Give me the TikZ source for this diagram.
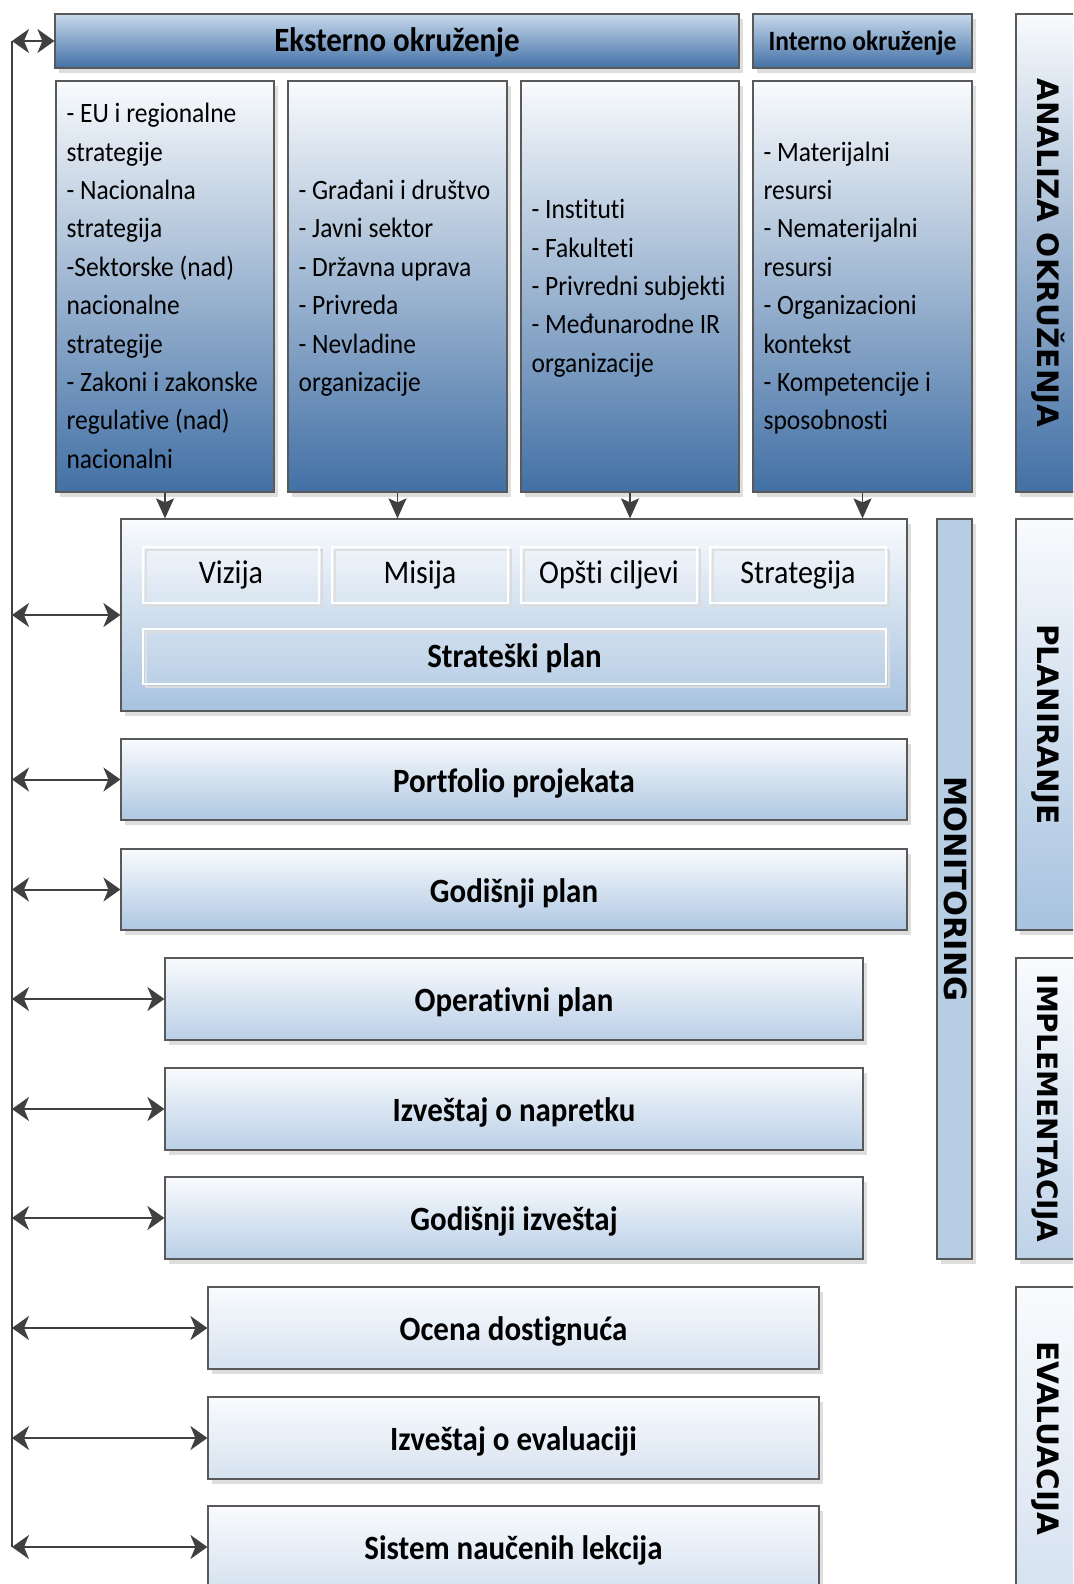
\documentclass[tikz,border=0pt]{standalone}
\usepackage{fontspec}
\setmainfont{Carlito}[FakeStretch=0.91, Ligatures=NoCommon]
\newfontfamily\capsfont{DejaVu Sans}
\usetikzlibrary{arrows.meta,shadows}

\definecolor{edge}{RGB}{89,89,89}
\definecolor{arrowcol}{RGB}{64,64,64}
\definecolor{shadowcol}{RGB}{222,222,222}
\definecolor{dkblue}{RGB}{66,112,165}
\definecolor{hdtop}{RGB}{200,218,237}
\definecolor{paletop}{RGB}{249,251,253}
\definecolor{midblue}{RGB}{167,194,223}
\definecolor{rowblueA}{RGB}{174,199,226}
\definecolor{rowblueB}{RGB}{186,207,231}
\definecolor{rowblueC}{RGB}{214,226,240}
\definecolor{implblue}{RGB}{190,210,232}
\definecolor{evalblue}{RGB}{214,226,240}
\definecolor{monblue}{RGB}{182,205,228}

\begin{document}
\begin{tikzpicture}[x=1pt,y=-1pt,
  box/.style={rectangle, draw=edge, line width=1.2pt, inner sep=0pt,
    drop shadow={shadow xshift=4pt, shadow yshift=-5pt, fill=shadowcol, opacity=1}},
  header/.style={box, top color=hdtop, bottom color=dkblue},
  listbox/.style={box, top color=paletop, bottom color=dkblue},
  listtext/.style={anchor=west, xshift=11pt, inner sep=0pt, align=left,
    font=\fontsize{28}{38.4}\selectfont},
  inbox/.style={rectangle, draw=white, line width=2.5pt, fill=white, fill opacity=0.12,
    text opacity=1, inner sep=0pt, minimum width=176, minimum height=56,
    font=\fontsize{33}{33}\selectfont, text height=16pt, text depth=0pt,
    drop shadow={shadow xshift=3pt, shadow yshift=-3pt, fill=none, draw=black!14, line width=2pt, opacity=1}},
  rowlabel/.style={font=\bfseries\fontsize{34}{34}\selectfont, text height=25pt, text depth=0pt},
  rowA/.style={box, rowlabel, top color=paletop, bottom color=rowblueA, minimum width=786, minimum height=81},
  rowB/.style={box, rowlabel, top color=paletop, bottom color=rowblueB, minimum width=698, minimum height=82},
  rowC/.style={box, rowlabel, top color=paletop, bottom color=rowblueC, minimum width=611, minimum height=82},
  vlabel/.style={rotate=-90, inner sep=0pt, text height=21pt, text depth=0pt,
    font=\capsfont\bfseries\fontsize{29.5}{29.5}\selectfont},
  dbl/.style={draw=arrowcol, line width=2pt,
    {Stealth[length=17pt,width=24pt,inset=5pt]}-{Stealth[length=17pt,width=24pt,inset=5pt]}},
  down/.style={draw=arrowcol, line width=1.5pt, -{Stealth[length=20pt,width=18pt,inset=4pt]}},
  ]
\path[use as bounding box, clip] (0,0) rectangle (1073,1584);
\fill[white] (0,0) rectangle (1073,1584);

% environment headers
\node[header, minimum width=684, minimum height=54,
  font=\bfseries\fontsize{34}{34}\selectfont, text height=22pt, text depth=0pt]
  (eks) at (397,41) {Eksterno okruženje};
\node[header, minimum width=219, minimum height=54,
  font=\bfseries\fontsize{28}{28}\selectfont, text height=19pt, text depth=0pt]
  (int) at (862.5,41) {Interno okruženje};

% environment factor boxes
\node[listbox, minimum width=218, minimum height=411] (c1) at (165,286.5) {};
\node[listbox, minimum width=219, minimum height=411] (c2) at (397.5,286.5) {};
\node[listbox, minimum width=218, minimum height=411] (c3) at (630,286.5) {};
\node[listbox, minimum width=219, minimum height=411] (c4) at (862.5,286.5) {};

\node[listtext] (t1) at (c1.west) {\rule{0pt}{26pt}- EU i regionalne\\strategije\\- Nacionalna\\strategija\\-Sektorske (nad)\\nacionalne\\strategije\\- Zakoni i zakonske\\regulative (nad)\\nacionalni\rule[-8pt]{0pt}{8pt}};
\node[listtext] (t2) at (c2.west) {\rule{0pt}{26pt}- Građani i društvo\\- Javni sektor\\- Državna uprava\\- Privreda\\- Nevladine\\organizacije\rule[-8pt]{0pt}{8pt}};
\node[listtext] (t3) at (c3.west) {\rule{0pt}{26pt}- Instituti\\- Fakulteti\\- Privredni subjekti\\- Međunarodne IR\\organizacije\rule[-8pt]{0pt}{8pt}};
\node[listtext] (t4) at (c4.west) {\rule{0pt}{26pt}- Materijalni\\resursi\\- Nematerijalni\\resursi\\- Organizacioni\\kontekst\\- Kompetencije i\\sposobnosti\rule[-8pt]{0pt}{8pt}};

% phase columns on the right
\node[box, top color=paletop, bottom color=dkblue, minimum width=64, minimum height=478] (anal) at (1048,253) {};
\node[box, top color=paletop, bottom color=midblue, minimum width=64, minimum height=411] (plan) at (1048,724.5) {};
\node[box, top color=paletop, bottom color=implblue, minimum width=64, minimum height=301] (impl) at (1048,1108.5) {};
\node[box, top color=paletop, bottom color=evalblue, minimum width=64, minimum height=300] (eval) at (1048,1437) {};
\node[vlabel] (lanal) at (anal.center) {ANALIZA OKRUŽENJA};
\node[vlabel] (lplan) at (plan.center) {PLANIRANJE};
\node[vlabel, font=\capsfont\bfseries\fontsize{28}{28}\selectfont] (limpl) at (impl.center) {IMPLEMENTACIJA};
\node[vlabel] (leval) at (1048,1438) {EVALUACIJA};

% monitoring bar
\node[box, fill=monblue, minimum width=35, minimum height=740] (mon) at (954.5,889) {};
\node[vlabel, font=\capsfont\bfseries\fontsize{30.5}{30.5}\selectfont] (lmon) at (mon.center) {MONITORING};

% strategic plan block
\node[box, top color=paletop, bottom color=midblue, minimum width=786, minimum height=192] (strat) at (514,615) {};
\node[inbox] (viz) at (231,575) {Vizija};
\node[inbox] (mis) at (420,575) {Misija};
\node[inbox] (cil) at (609,575) {Opšti ciljevi};
\node[inbox] (stg) at (798,575) {Strategija};
\node[inbox, minimum width=743, minimum height=55,
  font=\bfseries\fontsize{34}{34}\selectfont, text height=21pt] (splan) at (514.5,656.5) {Strateški plan};

% planning and reporting documents
\node[rowA] (r1) at (514,779.5) {Portfolio projekata};
\node[rowA] (r2) at (514,889.5) {Godišnji plan};
\node[rowB] (r3) at (514,999) {Operativni plan};
\node[rowB] (r4) at (514,1109) {Izveštaj o napretku};
\node[rowB] (r5) at (514,1218) {Godišnji izveštaj};
\node[rowC] (r6) at (513.5,1328) {Ocena dostignuća};
\node[rowC] (r7) at (513.5,1438) {Izveštaj o evaluaciji};
\node[rowC] (r8) at (513.5,1547) {Sistem naučenih lekcija};

% inputs from the environment into the strategic plan
\foreach \c in {c1,c2,c3,c4}
  \draw[down] (\c.south) -- (\c.south |- strat.north);

% feedback spine on the left
\coordinate (spTop) at (12,41);
\coordinate (spBot) at (12,1547);
\draw[draw=arrowcol, line width=2pt] (spTop) -- (spBot);
\draw[dbl] (spTop) -- (eks.west);
\foreach \n in {strat,r1,r2,r3,r4,r5,r6,r7,r8}
  \draw[dbl] (\n.west -| spTop) -- (\n.west);
\end{tikzpicture}
\end{document}
